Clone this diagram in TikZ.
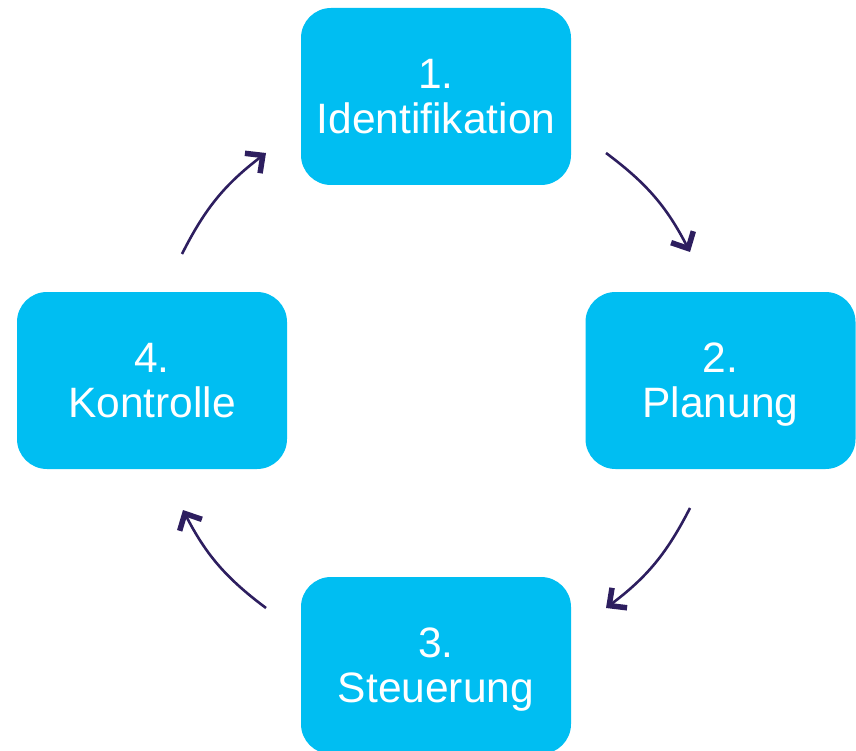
\documentclass[tikz,border=0pt]{standalone}
\usepackage{fontspec}
\setmainfont{Liberation Sans}
\usetikzlibrary{arrows.meta}
\definecolor{boxcyan}{RGB}{0,190,242}
\definecolor{arrowpurple}{RGB}{45,30,95}
\tikzset{
  stepbox/.style={fill=boxcyan, draw=none, rounded corners=30pt,
    minimum width=270pt, minimum height=177pt, inner sep=0pt,
    text=white, align=center, text depth=0pt,
    font=\fontsize{42.5pt}{45pt}\selectfont},
  cyclearrow/.style={draw=arrowpurple, line width=2.6pt,
    -{Straight Barb[length=13pt,width=25pt,line width=5.5pt]},
    bend left=13}
}
\begin{document}
\begin{tikzpicture}[x=1pt,y=1pt]
\useasboundingbox (0,0) rectangle (856,-751);
\node[stepbox] (n1) at (436,-96.5) {1.\\Identifikation};
\node[stepbox] (n2) at (720.5,-380.5) {2.\\Planung};
\node[stepbox] (n3) at (436,-665.5) {3.\\Steuerung};
\node[stepbox] (n4) at (152,-380.5) {4.\\Kontrolle};
\coordinate (a1s) at (606,-153);
\coordinate (a1e) at (690,-252);
\coordinate (a2s) at (690,-508);
\coordinate (a2e) at (606,-608);
\coordinate (a3s) at (266,-608);
\coordinate (a3e) at (183,-510);
\coordinate (a4s) at (182,-254);
\coordinate (a4e) at (266,-153);
\draw[cyclearrow] (a1s) to (a1e);
\draw[cyclearrow] (a2s) to (a2e);
\draw[cyclearrow] (a3s) to (a3e);
\draw[cyclearrow] (a4s) to (a4e);
\end{tikzpicture}
\end{document}
